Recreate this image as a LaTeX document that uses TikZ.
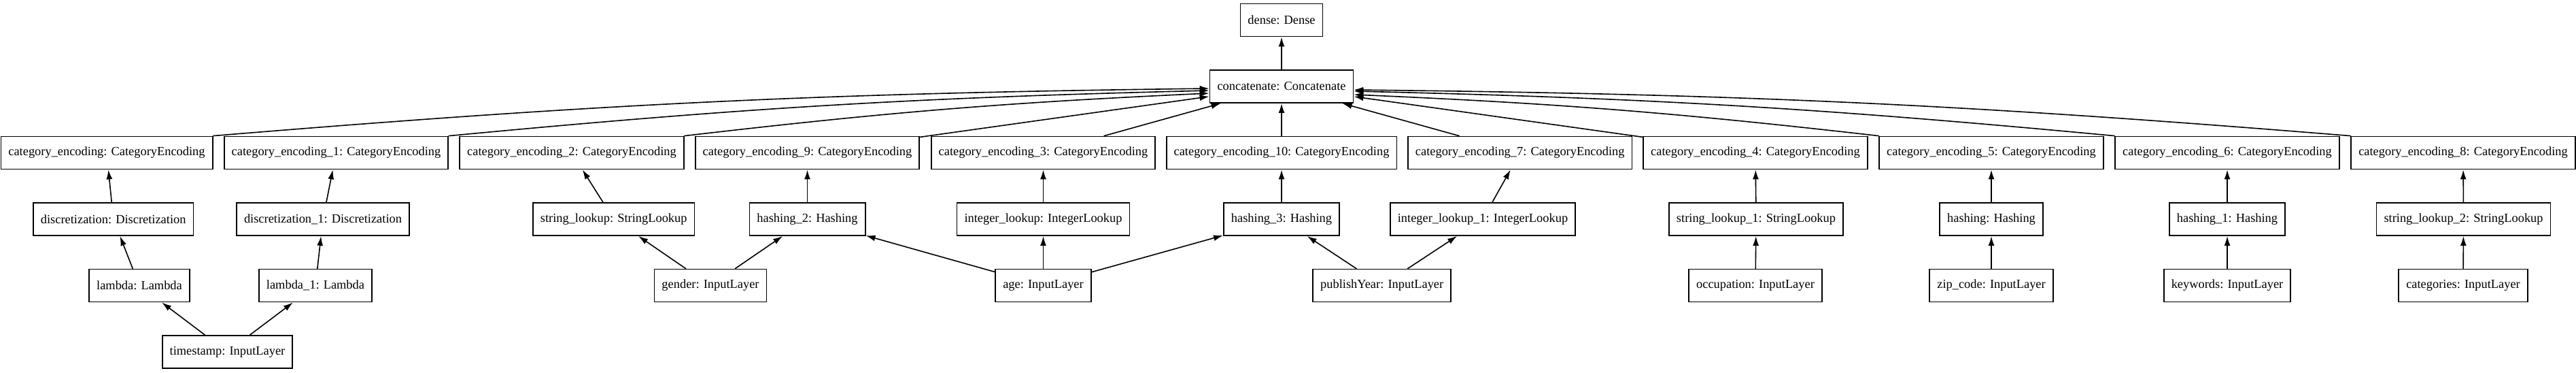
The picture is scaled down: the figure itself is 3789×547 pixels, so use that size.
\documentclass[tikz,border=0pt]{standalone}
\usepackage{fontspec}
\setmainfont{Liberation Serif}
\usetikzlibrary{arrows.meta}

\begin{document}
\begin{tikzpicture}
		[x=0.5pt,y=0.5pt,line cap=round,
		%Styles
		layer/.style={draw=layercolor,line width=0.9pt,rectangle,minimum height=24pt,inner xsep=5.5pt,font=\fontsize{9.2}{11}\selectfont},
		feed/.style={draw=layercolor,line width=0.8pt,-{Latex[length=7pt,width=4.5pt]}}
		]
		
		%Colors
		\colorlet{layercolor}{black}
		
		\useasboundingbox (0,0) rectangle (3789,-547);
		
		%Output and merge
		\node[layer] (dense) at (1885,-29.5) {dense: Dense};
		\node[layer] (concat) at (1885,-127) {concatenate: Concatenate};
		
		%Encodings
		\node[layer] (ce) at (157,-224.5) {category\_encoding: CategoryEncoding};
		\node[layer] (ce1) at (494.5,-224.5) {category\_encoding\_1: CategoryEncoding};
		\node[layer] (ce2) at (841,-224.5) {category\_encoding\_2: CategoryEncoding};
		\node[layer] (ce9) at (1187.5,-224.5) {category\_encoding\_9: CategoryEncoding};
		\node[layer] (ce3) at (1534.5,-224.5) {category\_encoding\_3: CategoryEncoding};
		\node[layer] (ce10) at (1885,-224.5) {category\_encoding\_10: CategoryEncoding};
		\node[layer] (ce7) at (2235.7,-224.5) {category\_encoding\_7: CategoryEncoding};
		\node[layer] (ce4) at (2582,-224.5) {category\_encoding\_4: CategoryEncoding};
		\node[layer] (ce5) at (2929,-224.5) {category\_encoding\_5: CategoryEncoding};
		\node[layer] (ce6) at (3276,-224.5) {category\_encoding\_6: CategoryEncoding};
		\node[layer] (ce8) at (3623,-224.5) {category\_encoding\_8: CategoryEncoding};
		
		%Preprocessing
		\node[layer] (disc) at (166.7,-322) {discretization: Discretization};
		\node[layer] (disc1) at (475,-322) {discretization\_1: Discretization};
		\node[layer] (sl) at (902.7,-322) {string\_lookup: StringLookup};
		\node[layer] (hash2) at (1187.5,-322) {hashing\_2: Hashing};
		\node[layer] (il) at (1534.5,-322) {integer\_lookup: IntegerLookup};
		\node[layer] (hash3) at (1885,-322) {hashing\_3: Hashing};
		\node[layer] (il1) at (2181,-322) {integer\_lookup\_1: IntegerLookup};
		\node[layer] (sl1) at (2583,-322) {string\_lookup\_1: StringLookup};
		\node[layer] (hash) at (2929,-322) {hashing: Hashing};
		\node[layer] (hash1) at (3276,-322) {hashing\_1: Hashing};
		\node[layer] (sl2) at (3623.5,-322) {string\_lookup\_2: StringLookup};
		
		%Inputs
		\node[layer] (lam) at (205,-419.5) {lambda: Lambda};
		\node[layer] (lam1) at (464,-419.5) {lambda\_1: Lambda};
		\node[layer] (gender) at (1045,-419.5) {gender: InputLayer};
		\node[layer] (age) at (1534.5,-419.5) {age: InputLayer};
		\node[layer] (pub) at (2032.7,-419.5) {publishYear: InputLayer};
		\node[layer] (occ) at (2582,-419.5) {occupation: InputLayer};
		\node[layer] (zip) at (2929,-419.5) {zip\_code: InputLayer};
		\node[layer] (kw) at (3276,-419.5) {keywords: InputLayer};
		\node[layer] (cats) at (3623,-419.5) {categories: InputLayer};
		\node[layer] (ts) at (334.5,-517) {timestamp: InputLayer};
		
		%The graphic
		\draw[feed] (ts) -- (lam);
		\draw[feed] (ts) -- (lam1);
		\draw[feed] (lam) -- (disc);
		\draw[feed] (lam1) -- (disc1);
		\draw[feed] (disc) -- (ce);
		\draw[feed] (disc1) -- (ce1);
		\draw[feed] (gender) -- (sl);
		\draw[feed] (gender) -- (hash2);
		\draw[feed] (sl) -- (ce2);
		\draw[feed] (hash2) -- (ce9);
		\draw[feed] (age) -- (hash2);
		\draw[feed] (age) -- (il);
		\draw[feed] (age) -- (hash3);
		\draw[feed] (il) -- (ce3);
		\draw[feed] (hash3) -- (ce10);
		\draw[feed] (pub) -- (hash3);
		\draw[feed] (pub) -- (il1);
		\draw[feed] (il1) -- (ce7);
		\draw[feed] (occ) -- (sl1);
		\draw[feed] (sl1) -- (ce4);
		\draw[feed] (zip) -- (hash);
		\draw[feed] (hash) -- (ce5);
		\draw[feed] (kw) -- (hash1);
		\draw[feed] (hash1) -- (ce6);
		\draw[feed] (cats) -- (sl2);
		\draw[feed] (sl2) -- (ce8);
		
		%Into the merge
		\draw[feed] (ce.north east) to[bend left=2] ([yshift=-1.5pt]concat.west);
		\draw[feed] (ce1.north east) to[bend left=2] ([yshift=-3pt]concat.west);
		\draw[feed] (ce2.north east) to[bend left=2] ([yshift=-5pt]concat.west);
		\draw[feed] (ce9) -- (concat);
		\draw[feed] (ce3) -- (concat);
		\draw[feed] (ce10) -- (concat);
		\draw[feed] (ce7) -- (concat);
		\draw[feed] (ce4) -- (concat);
		\draw[feed] (ce5.north west) to[bend right=2] ([yshift=-6pt]concat.east);
		\draw[feed] (ce6.north west) to[bend right=2] ([yshift=-3.5pt]concat.east);
		\draw[feed] (ce8.north west) to[bend right=2] ([yshift=-2.5pt]concat.east);
		\draw[feed] (concat) -- (dense);
	\end{tikzpicture}
\end{document}
